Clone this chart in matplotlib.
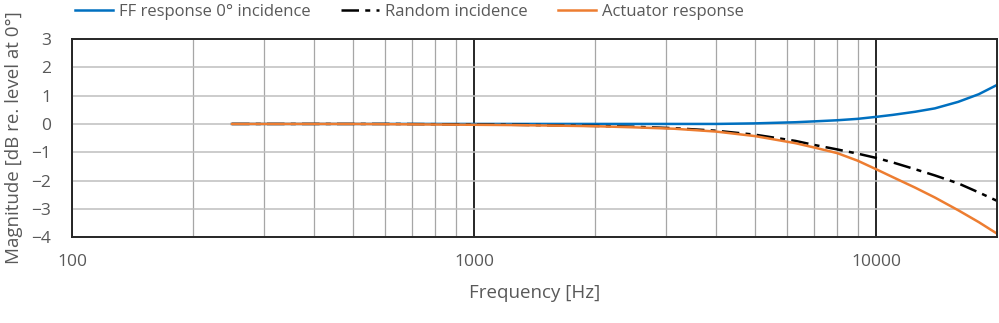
import matplotlib.pyplot as plt
from matplotlib.ticker import FixedLocator, NullFormatter

# Data
freq = [250, 315, 400, 500, 630, 800, 1000, 1250, 1600, 2000, 2500, 3150,
        4000, 5000, 6300, 7000, 8000, 9000, 10000, 11000, 12500, 14000,
        16000, 18000, 20000]
ff_resp = [0, 0, 0, 0, 0, 0, 0, 0, 0, 0, 0, 0,
           0.0, 0.02, 0.06, 0.09, 0.13, 0.18, 0.25, 0.32, 0.43, 0.55,
           0.78, 1.05, 1.38]
random_inc = [0, 0, 0, 0, 0, -0.01, -0.02, -0.03, -0.05, -0.07, -0.1, -0.15,
              -0.24, -0.38, -0.6, -0.74, -0.9, -1.05, -1.2, -1.36, -1.6, -1.82,
              -2.1, -2.42, -2.72]
actuator = [0, 0, 0, 0, -0.01, -0.02, -0.03, -0.04, -0.06, -0.08, -0.12, -0.17,
            -0.27, -0.43, -0.68, -0.83, -1.03, -1.3, -1.6, -1.88, -2.25, -2.6,
            -3.05, -3.47, -3.88]

x_major = [100, 1000, 10000]
y_ticks = [-4, -3, -2, -1, 0, 1, 2, 3]

TXT = "#595959"
plt.rcParams['font.family'] = ['Open Sans', 'DejaVu Sans']

fig = plt.figure(figsize=(9.99, 3.23), dpi=100)
ax = fig.add_axes([0.0721, 0.266, 0.926, 0.613])

ax.plot(freq, ff_resp, color="#0070C0", lw=1.8, label="FF response 0° incidence")
ax.plot(freq, random_inc, color="black", lw=1.8, dashes=(7, 2.5, 2, 2.5),
        label="Random incidence")
ax.plot(freq, actuator, color="#ED7D31", lw=1.8, label="Actuator response")

ax.set_xscale("log")
ax.set_xlim(100, 20000)
ax.set_ylim(-4, 3)
ax.xaxis.set_major_locator(FixedLocator(x_major))
ax.xaxis.set_minor_locator(FixedLocator(
    [m * d for d in (100, 1000, 10000) for m in range(2, 10) if m * d < 20000]))
ax.xaxis.set_minor_formatter(NullFormatter())
ax.set_xticklabels([str(v) for v in x_major])
ax.set_yticks(y_ticks)

ax.grid(which="minor", axis="x", color="#a6a6a6", lw=0.9)
ax.grid(which="major", axis="x", color="#262626", lw=1.4)
ax.grid(which="major", axis="y", color="#bfbfbf", lw=1.1)
ax.set_axisbelow(True)
ax.tick_params(which="both", length=0, colors=TXT, labelsize=12.5)
ax.tick_params(axis="x", pad=12)
ax.tick_params(axis="y", pad=15)
for s in ax.spines.values():
    s.set_color("#262626")
    s.set_linewidth(1.4)

ax.set_xlabel("Frequency [Hz]", color=TXT, fontsize=13.5, labelpad=10)
ax.set_ylabel("Magnitude [dB re. level at 0°]", color=TXT, fontsize=13.5, labelpad=6)

leg = fig.legend(loc="upper left", bbox_to_anchor=(75 / 999, 1 - 4 / 323), ncol=3,
                 frameon=False, borderpad=0, borderaxespad=0, fontsize=12,
                 handlelength=2.3, columnspacing=1.8, handletextpad=0.35)
for t in leg.get_texts():
    t.set_color(TXT)

fig.savefig("out.png", dpi=100)
